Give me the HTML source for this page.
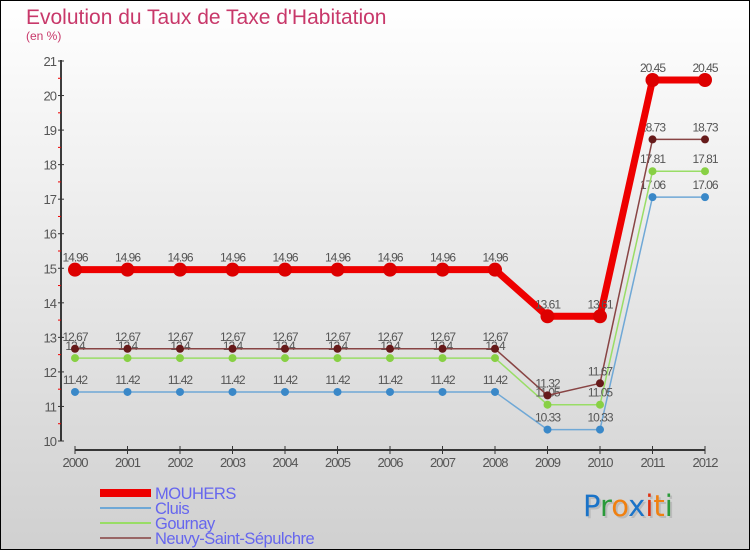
<!DOCTYPE html>
<html><head><meta charset="utf-8">
<style>
html,body{margin:0;padding:0}
body{width:750px;height:550px;overflow:hidden;font-family:"Liberation Sans",sans-serif}
</style></head>
<body>
<svg id="c" width="750" height="550" xmlns="http://www.w3.org/2000/svg">
<defs>
<linearGradient id="bg" x1="0" y1="0" x2="0" y2="1">
<stop offset="0" stop-color="#ffffff"/><stop offset="1" stop-color="#d0d0d0"/>
</linearGradient>
</defs>
<rect x="0.5" y="0.5" width="749" height="549" fill="url(#bg)" stroke="#000"/>
<text x="26" y="24" font-size="21" fill="#c8386a" font-weight="normal">Evolution du Taux de Taxe d'Habitation</text>
<text x="26" y="40" font-size="12" fill="#c8386a">(en %)</text>
<g id="axes"></g>
<g id="series"></g>
<g id="legend"></g>
<g style="font-family:'DejaVu Sans',sans-serif" font-size="29">
<text x="585" y="518" fill="#bbb">Proxiti</text>
<text x="583" y="516"><tspan fill="#1a73c8">P</tspan><tspan fill="#2a9a3a">r</tspan><tspan fill="#f08010">o</tspan><tspan fill="#1a73c8">x</tspan><tspan fill="#e03010">i</tspan><tspan fill="#f08010">t</tspan><tspan fill="#2a9a3a">i</tspan></text>
</g>
</svg>
<script>
const years=[2000,2001,2002,2003,2004,2005,2006,2007,2008,2009,2010,2011,2012];
const mouhers=[14.96,14.96,14.96,14.96,14.96,14.96,14.96,14.96,14.96,13.61,13.61,20.45,20.45];
const cluis=[11.42,11.42,11.42,11.42,11.42,11.42,11.42,11.42,11.42,10.33,10.33,17.06,17.06];
const gournay=[12.4,12.4,12.4,12.4,12.4,12.4,12.4,12.4,12.4,11.05,11.05,17.81,17.81];
const neuvy=[12.67,12.67,12.67,12.67,12.67,12.67,12.67,12.67,12.67,11.32,11.67,18.73,18.73];
const yTicks=[10,11,12,13,14,15,16,17,18,19,20,21];
const NS="http://www.w3.org/2000/svg";
const x=i=>75+i*(630/(years.length-1));
const y=v=>441-(v-10)*(380/11);
function mk(t,a,p){const e=document.createElementNS(NS,t);for(const k in a)e.setAttribute(k,a[k]);p.appendChild(e);return e;}
const axes=document.getElementById('axes');
mk('line',{x1:61,y1:60,x2:61,y2:441,stroke:'#000','stroke-width':1.5},axes);
yTicks.forEach(v=>{
  mk('line',{x1:58,y1:y(v),x2:64,y2:y(v),stroke:'#333'},axes);
  const t=mk('text',{x:56,y:y(v)+5,'font-size':13,fill:'#555','text-anchor':'end','letter-spacing':'-1'},axes);
  t.textContent=v;
  
  
  if(v<21){mk('line',{x1:58,y1:y(v+0.5),x2:61,y2:y(v+0.5),stroke:'#e00'},axes);}
});
mk('line',{x1:75,y1:450,x2:705,y2:450,stroke:'#000','stroke-width':1.5},axes);
years.forEach((yr,i)=>{
  mk('line',{x1:x(i),y1:446,x2:x(i),y2:454,stroke:'#333'},axes);
  const t=mk('text',{x:x(i),y:467,'font-size':13,fill:'#555','text-anchor':'middle','letter-spacing':'-1'},axes);
  t.textContent=yr;
  
  
});
const ser=document.getElementById('series');
function draw(vals,color,w,r,name,fill){
  const g=mk('g',{},ser);
  
  
  mk('polyline',{points:vals.map((v,i)=>x(i)+','+y(v)).join(' '),fill:'none',stroke:color,'stroke-width':w,'stroke-linejoin':'round'},g);
  vals.forEach((v,i)=>{
    const c=mk('circle',{cx:x(i),cy:y(v),r:r,fill:fill},g);
    
    
    const t=mk('text',{x:x(i),y:y(v)-8,'font-size':12,fill:'#555','text-anchor':'middle','letter-spacing':'-1'},g);
    t.textContent=v;
    
    
  });
}
draw(cluis,'#6fa8d6',1.5,4,'cluis','#3a88c8');
draw(gournay,'#99dd66',1.5,4,'gournay','#88d044');
draw(neuvy,'#884444',1.5,4,'neuvy','#661a1a');
draw(mouhers,'#ee0000',7,7,'mouhers','#dd0000');
const leg=document.getElementById('legend');
const items=[['MOUHERS','#ee0000',8],['Cluis','#6fa8d6',2],['Gournay','#99dd66',2],['Neuvy-Saint-Sépulchre','#996666',2]];
items.forEach((it,k)=>{
  const yy=493+k*15;
  const l=mk('line',{x1:100,y1:yy,x2:151,y2:yy,stroke:it[1],'stroke-width':it[2]},leg);
  
  
  const t=mk('text',{x:155,y:yy+6,'font-size':16.5,fill:'#6666ee','letter-spacing':'-0.5'},leg);
  t.textContent=it[0];
  
  
});
</script>
</body></html>
